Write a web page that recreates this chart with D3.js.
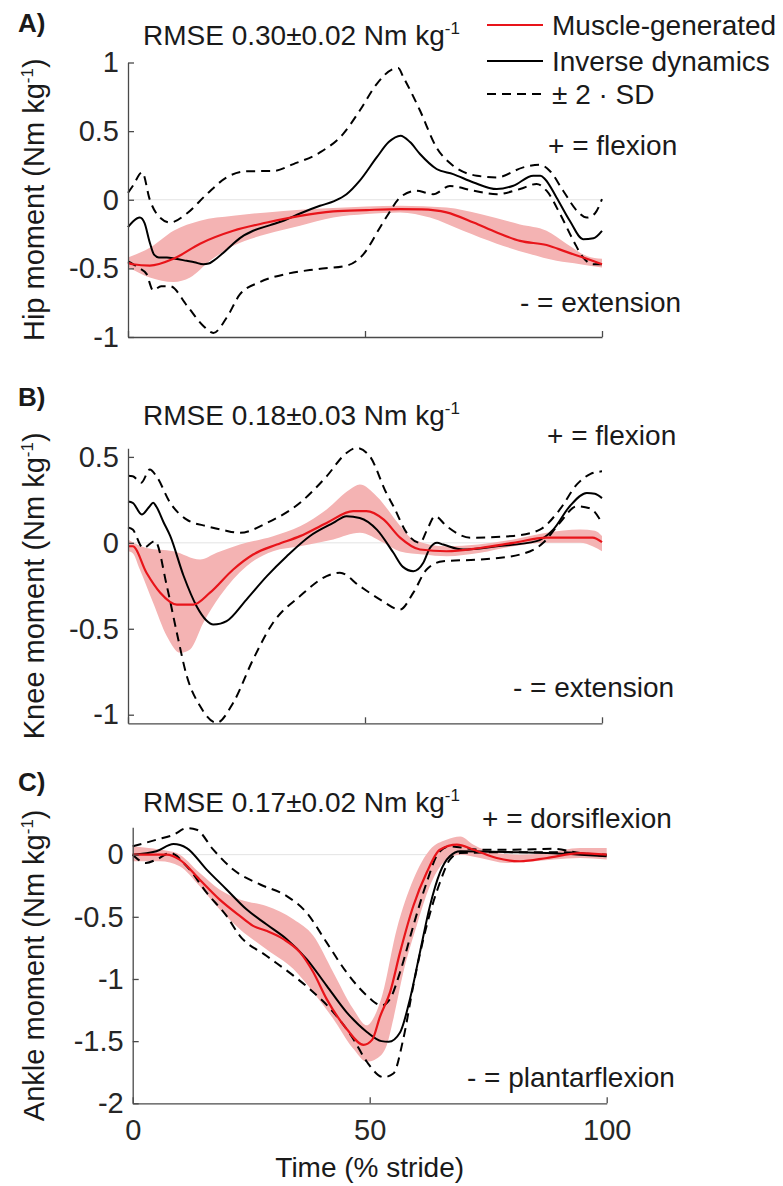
<!DOCTYPE html>
<html><head><meta charset="utf-8">
<script src="https://cdn.jsdelivr.net/npm/d3@7"></script>
<style>
html,body{margin:0;padding:0;background:#fff;}
svg{display:block;font-family:"Liberation Sans",Arial,Helvetica,sans-serif;}
</style></head>
<body><svg id="chart" width="783" height="1186"></svg>
<script>
// ---------- DATA (x = % stride, value = Nm/kg) ----------
const timeTicks = [0, 50, 100];
const timeTickLabels = ["0", "50", "100"];

const hipTicks = [-1, -0.5, 0, 0.5, 1];
const hipTickLabels = ["-1", "-0.5", "0", "0.5", "1"];
const kneeTicks = [-1, -0.5, 0, 0.5];
const kneeTickLabels = ["-1", "-0.5", "0", "0.5"];
const ankleTicks = [-2, -1.5, -1, -0.5, 0];
const ankleTickLabels = ["-2", "-1.5", "-1", "-0.5", "0"];

// Hip
const hipID = [[0,-0.2],[1,-0.16],[2.5,-0.13],[3.5,-0.17],[4.5,-0.3],[5.5,-0.4],[6.5,-0.42],[8.2,-0.42],[10,-0.43],[12.4,-0.445],[14,-0.455],[15.9,-0.47],[17,-0.465],[18,-0.445],[20,-0.39],[22.2,-0.32],[24,-0.27],[26.4,-0.226],[30,-0.185],[32.8,-0.153],[36.3,-0.1],[40.5,-0.044],[43.5,-0.01],[46.1,0.04],[48.9,0.139],[52.5,0.31],[55,0.42],[57.5,0.467],[59.5,0.42],[61.6,0.333],[65.1,0.224],[68.6,0.187],[72.9,0.126],[77.8,0.078],[81.3,0.102],[85.5,0.175],[87,0.175],[88,0.15],[90.4,0.017],[93.2,-0.153],[96,-0.287],[98.2,-0.28],[100,-0.226]];
const hipUpper = [[0,0.05],[1,0.1],[3,0.2],[4.6,0.0],[6,-0.1],[8.9,-0.166],[12.4,-0.1],[16.6,0.04],[20.8,0.163],[25,0.207],[30.7,0.21],[34.9,0.26],[40.5,0.345],[45.4,0.48],[48.9,0.65],[52.5,0.845],[56,0.954],[57,0.96],[58.1,0.893],[61.6,0.65],[65.1,0.38],[68.6,0.248],[73.6,0.175],[77.8,0.163],[83.4,0.236],[86.9,0.255],[89,0.21],[91.8,0.066],[94.7,-0.08],[96.8,-0.13],[98.5,-0.1],[100,0.005]];
const hipLower = [[0,-0.45],[1.1,-0.47],[2.5,-0.5],[3.9,-0.54],[5.3,-0.66],[7,-0.63],[8.9,-0.63],[12.4,-0.77],[15.9,-0.92],[18,-0.97],[20.8,-0.86],[23.6,-0.69],[27.8,-0.6],[33.5,-0.54],[39.8,-0.506],[46.1,-0.48],[49.6,-0.4],[53.2,-0.2],[55,-0.1],[57.4,0.017],[60.9,0.066],[63,0.05],[64.4,0.04],[67.9,0.1],[72.9,0.066],[77.8,0.04],[82.7,0.078],[86.2,0.115],[88.3,0.066],[91.1,-0.1],[94,-0.3],[96,-0.42],[98.2,-0.47],[100,-0.47]];
const hipMean = [[0,-0.46],[1,-0.47],[4.6,-0.48],[9.6,-0.43],[15.2,-0.32],[22.2,-0.226],[29.3,-0.166],[36.3,-0.117],[43.3,-0.085],[50.3,-0.075],[57.4,-0.068],[62,-0.07],[67.2,-0.092],[72.9,-0.166],[77.8,-0.238],[82.7,-0.3],[88.3,-0.33],[92.5,-0.38],[96.8,-0.43],[100,-0.47]];
const hipBandHi = [[0,-0.42],[4.6,-0.35],[9.6,-0.226],[15.2,-0.153],[22.2,-0.117],[29.3,-0.092],[43.3,-0.06],[57.4,-0.044],[67.2,-0.056],[74.3,-0.104],[82.7,-0.18],[88.3,-0.226],[92.5,-0.32],[96.8,-0.41],[100,-0.43]];
const hipBandLo = [[0,-0.49],[4.6,-0.567],[9.6,-0.6],[13.1,-0.567],[17.3,-0.445],[22.2,-0.336],[29.3,-0.25],[36.3,-0.19],[43.3,-0.13],[50.3,-0.104],[57.4,-0.092],[63.7,-0.13],[70.7,-0.226],[77.8,-0.32],[84.8,-0.396],[90.4,-0.445],[95.4,-0.47],[100,-0.494]];

// Knee
const kneeID = [[0,0.24],[1,0.233],[2.9,0.165],[4.5,0.21],[5.3,0.233],[6,0.21],[7.5,0.12],[8.9,0.04],[11.7,-0.19],[14.5,-0.37],[16.5,-0.45],[18,-0.475],[19.5,-0.47],[20.8,-0.456],[25,-0.33],[29.3,-0.194],[33.5,-0.078],[38.4,0.04],[43.3,0.116],[46.1,0.155],[48.9,0.145],[52.5,0.077],[56,-0.058],[58,-0.14],[60.2,-0.165],[62.3,-0.116],[63.7,-0.03],[65.2,0.0],[66.5,-0.01],[70.7,-0.039],[77.8,-0.02],[86.2,0.01],[89.7,0.077],[93.2,0.213],[96.8,0.29],[98.5,0.285],[100,0.26]];
const kneeUpper = [[0,0.39],[1,0.387],[2.8,0.35],[4.6,0.426],[6,0.387],[8.9,0.233],[12.4,0.135],[16.6,0.097],[20,0.075],[23.6,0.058],[29.3,0.116],[36.3,0.233],[41.9,0.387],[46.1,0.523],[48.2,0.552],[51,0.504],[54.5,0.29],[56,0.213],[58.8,0.058],[61.6,0.0],[63,0.07],[64.8,0.155],[67.2,0.097],[72.2,0.03],[81.3,0.04],[86.9,0.077],[91.1,0.194],[94.7,0.34],[97.5,0.4],[100,0.416]];
const kneeLower = [[0,0.09],[1,0.077],[3.2,-0.03],[5.7,0.01],[8.2,-0.252],[10.3,-0.523],[12.4,-0.775],[15.2,-0.95],[18.7,-1.047],[22.2,-0.93],[26.4,-0.678],[30.6,-0.465],[36.3,-0.31],[41.9,-0.194],[44.7,-0.174],[48.9,-0.252],[53.2,-0.33],[57.4,-0.388],[60.2,-0.29],[63,-0.155],[66.5,-0.107],[74.3,-0.097],[82.7,-0.068],[87.6,0.0],[91.1,0.116],[94.7,0.213],[97.5,0.2],[100,0.116]];
const kneeMean = [[0,-0.02],[1,-0.02],[3.9,-0.174],[6.8,-0.29],[10.3,-0.359],[13.8,-0.359],[17.3,-0.29],[22.2,-0.155],[26.4,-0.068],[31.4,-0.01],[36.3,0.039],[41.9,0.116],[47.5,0.184],[50.3,0.184],[53.9,0.136],[57.4,0.03],[61.6,-0.039],[67.2,-0.049],[74.3,-0.03],[81.3,0],[88.3,0.03],[95.4,0.03],[98,0.03],[100,0.004]];
const kneeBandHi = [[0,0.02],[3.9,-0.03],[9.6,-0.049],[15.2,-0.097],[18.7,-0.058],[23.6,-0.01],[30.6,0.039],[36.3,0.097],[41.9,0.194],[46.8,0.31],[48.9,0.339],[52.5,0.27],[57.4,0.1],[60.2,0.02],[67.2,-0.02],[81.3,0.02],[88.3,0.058],[95.4,0.077],[98.5,0.07],[100,0.04]];
const kneeBandLo = [[0,-0.049],[1,-0.06],[2.5,-0.155],[5.3,-0.349],[8.2,-0.543],[11,-0.64],[13.1,-0.62],[15.9,-0.465],[19.4,-0.31],[25,-0.136],[30.6,-0.049],[36.3,-0.02],[43.3,0.02],[48.9,0.058],[53.9,0.0],[57.4,-0.05],[62.3,-0.068],[67.2,-0.078],[74.3,-0.058],[81.3,-0.02],[88.3,0],[95.4,0],[98,-0.02],[100,-0.049]];

// Ankle
const ankleID = [[0,0],[5,0.027],[8.6,0.085],[11.4,0.053],[15.6,-0.12],[19.8,-0.28],[24,-0.44],[28.2,-0.56],[32.5,-0.68],[36.7,-0.84],[40.9,-1.053],[45.1,-1.266],[49.4,-1.426],[52.5,-1.5],[54,-1.505],[56.4,-1.43],[58.5,-1.16],[60.6,-0.786],[62.7,-0.414],[64.8,-0.146],[66.9,-0.013],[69.1,0.027],[80.3,0.02],[87.4,0.013],[94.4,0],[100,-0.013]];
const ankleUpper = [[0,0.067],[5,0.12],[8.6,0.16],[11.4,0.213],[13.5,0.2],[17,0.04],[21.2,-0.12],[26.9,-0.24],[32.5,-0.333],[36.7,-0.467],[40.9,-0.706],[45.1,-0.946],[49.4,-1.133],[52.5,-1.213],[54.3,-1.16],[56.4,-0.946],[59.2,-0.573],[62,-0.226],[64.5,0.013],[66.9,0.067],[73,0.04],[80.3,0.04],[88.8,0.047],[94.4,0.013],[100,0]];
const ankleLower = [[0,0],[2.8,-0.067],[5,-0.04],[7.9,0.013],[11.4,-0.093],[15.6,-0.306],[19.8,-0.493],[22.6,-0.653],[28.2,-0.813],[33.9,-0.973],[38.1,-1.106],[42.3,-1.266],[46.5,-1.48],[49.4,-1.666],[52.9,-1.79],[55,-1.76],[57.1,-1.48],[59.2,-1.053],[62,-0.573],[64.8,-0.226],[66.9,-0.04],[69.1,0.013],[80,0.02],[90,0.02],[100,-0.013]];
const ankleMean = [[0,0],[7.2,0],[9.9,-0.04],[14.1,-0.2],[18.3,-0.36],[22.6,-0.493],[25.4,-0.573],[28.2,-0.613],[31.8,-0.68],[35.3,-0.786],[38.1,-0.946],[40.9,-1.16],[45.1,-1.4],[48.7,-1.53],[50.5,-1.49],[52.2,-1.3],[54.3,-1.106],[56.4,-0.786],[59.2,-0.413],[62,-0.146],[64.8,0.04],[68.4,0.08],[71.9,0.04],[76.8,-0.027],[81.7,-0.053],[87.4,-0.027],[94.4,0.013],[100,0]];
const ankleBandHi = [[0,0.067],[5.8,0.04],[9.3,0.013],[14.1,-0.146],[18.3,-0.28],[22.6,-0.36],[28.2,-0.413],[33.9,-0.52],[38.1,-0.653],[42.3,-0.946],[46.5,-1.24],[49.4,-1.373],[51,-1.3],[52.5,-1.15],[55.7,-0.6],[59.2,-0.2],[62.7,0.04],[66.2,0.12],[69.1,0.147],[71.9,0.08],[76.8,0.013],[81.7,0],[87.4,0.013],[94.4,0.053],[100,0.053]];
const ankleBandLo = [[0,-0.053],[5.8,-0.053],[9.9,-0.093],[14.1,-0.253],[18.3,-0.44],[22.6,-0.6],[28.2,-0.76],[33.9,-0.92],[38.1,-1.106],[42.3,-1.32],[46.5,-1.56],[49.4,-1.666],[51.5,-1.64],[53.6,-1.533],[55,-1.32],[57.1,-0.946],[59.9,-0.573],[62.7,-0.253],[65.5,-0.067],[69.1,0],[73.3,-0.027],[78.9,-0.067],[83.1,-0.06],[88.8,-0.04],[94.4,-0.027],[100,-0.04]];

const legendLabels = ["Muscle-generated", "Inverse dynamics", "± 2 · SD"];

// ---------- LAYOUT ----------
const panels = [
  {letter:"A)", rmse:"RMSE 0.30±0.02 Nm kg", ylab:"Hip moment (Nm kg", xr:[128,602], yd:[-1,1], yr:[337,62.5],
   ticks:hipTicks, tl:hipTickLabels, id:hipID, up:hipUpper, lo:hipLower, mean:hipMean, bh:hipBandHi, bl:hipBandLo,
   letterY:32, titleY:45, plus:"+ = flexion", plusX:548, plusY:155, minus:"- = extension", minusX:520, minusY:312, xlabels:false},
  {letter:"B)", rmse:"RMSE 0.18±0.03 Nm kg", ylab:"Knee moment (Nm kg", xr:[128,602], yd:[-1.05,0.55], yr:[723.3,448.3],
   ticks:kneeTicks, tl:kneeTickLabels, id:kneeID, up:kneeUpper, lo:kneeLower, mean:kneeMean, bh:kneeBandHi, bl:kneeBandLo,
   letterY:406, titleY:425, plus:"+ = flexion", plusX:547, plusY:445, minus:"- = extension", minusX:513, minusY:697, xlabels:false},
  {letter:"C)", rmse:"RMSE 0.17±0.02 Nm kg", ylab:"Ankle moment (Nm kg", xr:[132.7,606.7], yd:[-2,0.22], yr:[1103.3,827.3],
   ticks:ankleTicks, tl:ankleTickLabels, id:ankleID, up:ankleUpper, lo:ankleLower, mean:ankleMean, bh:ankleBandHi, bl:ankleBandLo,
   letterY:791, titleY:812, plus:"+ = dorsiflexion", plusX:482, plusY:828, minus:"- = plantarflexion", minusX:467, minusY:1087, xlabels:true}
];

const RED = "#e8141a", BAND = "#f4b3b3", AXIS = "#4a4a4a", TXT = "#1a1a1a";
const svg = d3.select("#chart");

function supText(sel, main, sup, supFs, supDy) {
  sel.append("tspan").text(main);
  sel.append("tspan").attr("font-size", supFs).attr("dy", supDy).text(sup);
}

panels.forEach(p => {
  const x = d3.scaleLinear().domain([0,100]).range(p.xr);
  const y = d3.scaleLinear().domain(p.yd).range(p.yr);
  const g = svg.append("g");
  const line = d3.line().x(d => x(d[0])).y(d => y(d[1])).curve(d3.curveMonotoneX);

  // zero reference line
  g.append("line").attr("x1", x(0)).attr("x2", x(100)).attr("y1", y(0)).attr("y2", y(0))
    .attr("stroke", "#e3e3e3").attr("stroke-width", 1);

  // band
  const bandPath = line(p.bh) + line(p.bl.slice().reverse()).replace(/^M/, "L") + "Z";
  g.append("path").attr("d", bandPath).attr("fill", BAND).attr("stroke", "none");

  // dashed +/- 2SD
  [p.up, p.lo].forEach(s => g.append("path").attr("d", line(s)).attr("fill", "none")
    .attr("stroke", "#000").attr("stroke-width", 2).attr("stroke-dasharray", "9,6"));
  // inverse dynamics
  g.append("path").attr("d", line(p.id)).attr("fill", "none").attr("stroke", "#000").attr("stroke-width", 2);
  // muscle generated
  g.append("path").attr("d", line(p.mean)).attr("fill", "none").attr("stroke", RED).attr("stroke-width", 2.2);

  // axes
  const yAxis = d3.axisLeft(y).tickValues(p.ticks).tickFormat((d,i) => p.tl[i])
    .tickSizeInner(-6).tickSizeOuter(0).tickPadding(9);
  const ga = g.append("g").attr("transform", `translate(${p.xr[0]},0)`).call(yAxis);
  const xAxis = d3.axisBottom(x).tickValues(timeTicks).tickFormat((d,i) => p.xlabels ? timeTickLabels[i] : "")
    .tickSizeInner(-6).tickSizeOuter(0).tickPadding(16);
  const gx = g.append("g").attr("transform", `translate(0,${p.yr[0]})`).call(xAxis);
  [ga, gx].forEach(a => {
    a.select(".domain").attr("stroke", AXIS).attr("stroke-width", 1.3);
    a.selectAll(".tick line").attr("stroke", AXIS).attr("stroke-width", 1.3);
    a.selectAll(".tick text").attr("fill", "#262626").attr("font-size", 29)
      .attr("font-family", '"Liberation Sans",Arial,sans-serif');
  });

  // y label
  const cy = (p.yr[0] + p.yr[1]) / 2;
  const yl = g.append("text").attr("transform", `translate(44,${cy}) rotate(-90)`)
    .attr("text-anchor", "middle").attr("font-size", 29).attr("fill", TXT);
  yl.append("tspan").text(p.ylab);
  yl.append("tspan").attr("font-size", 17).attr("dy", -11).text("-1");
  yl.append("tspan").attr("dy", 11).text(")");

  // letter
  g.append("text").attr("x", 18).attr("y", p.letterY).attr("font-size", 26).attr("font-weight", "bold")
    .attr("fill", TXT).text(p.letter);
  // RMSE title
  const t = g.append("text").attr("x", 143).attr("y", p.titleY).attr("font-size", 28).attr("fill", TXT);
  supText(t, p.rmse, "-1", 17, -11);
  // sign annotations
  g.append("text").attr("x", p.plusX).attr("y", p.plusY).attr("font-size", 28).attr("fill", TXT).text(p.plus);
  g.append("text").attr("x", p.minusX).attr("y", p.minusY).attr("font-size", 28).attr("fill", TXT).text(p.minus);
});

// x label
svg.append("text").attr("x", 369.7).attr("y", 1177).attr("text-anchor", "middle")
  .attr("font-size", 28).attr("fill", TXT).text("Time (% stride)");

// legend
const legY = [25, 61, 94];
const legStyle = [{c:RED, d:null}, {c:"#000", d:null}, {c:"#000", d:"9,6"}];
legendLabels.forEach((lab, i) => {
  svg.append("line").attr("x1", 487).attr("x2", 543).attr("y1", legY[i]).attr("y2", legY[i])
    .attr("stroke", legStyle[i].c).attr("stroke-width", 2).attr("stroke-dasharray", legStyle[i].d);
  svg.append("text").attr("x", 552).attr("y", legY[i] + 10).attr("font-size", 28).attr("fill", TXT).text(lab);
});
</script></body></html>
